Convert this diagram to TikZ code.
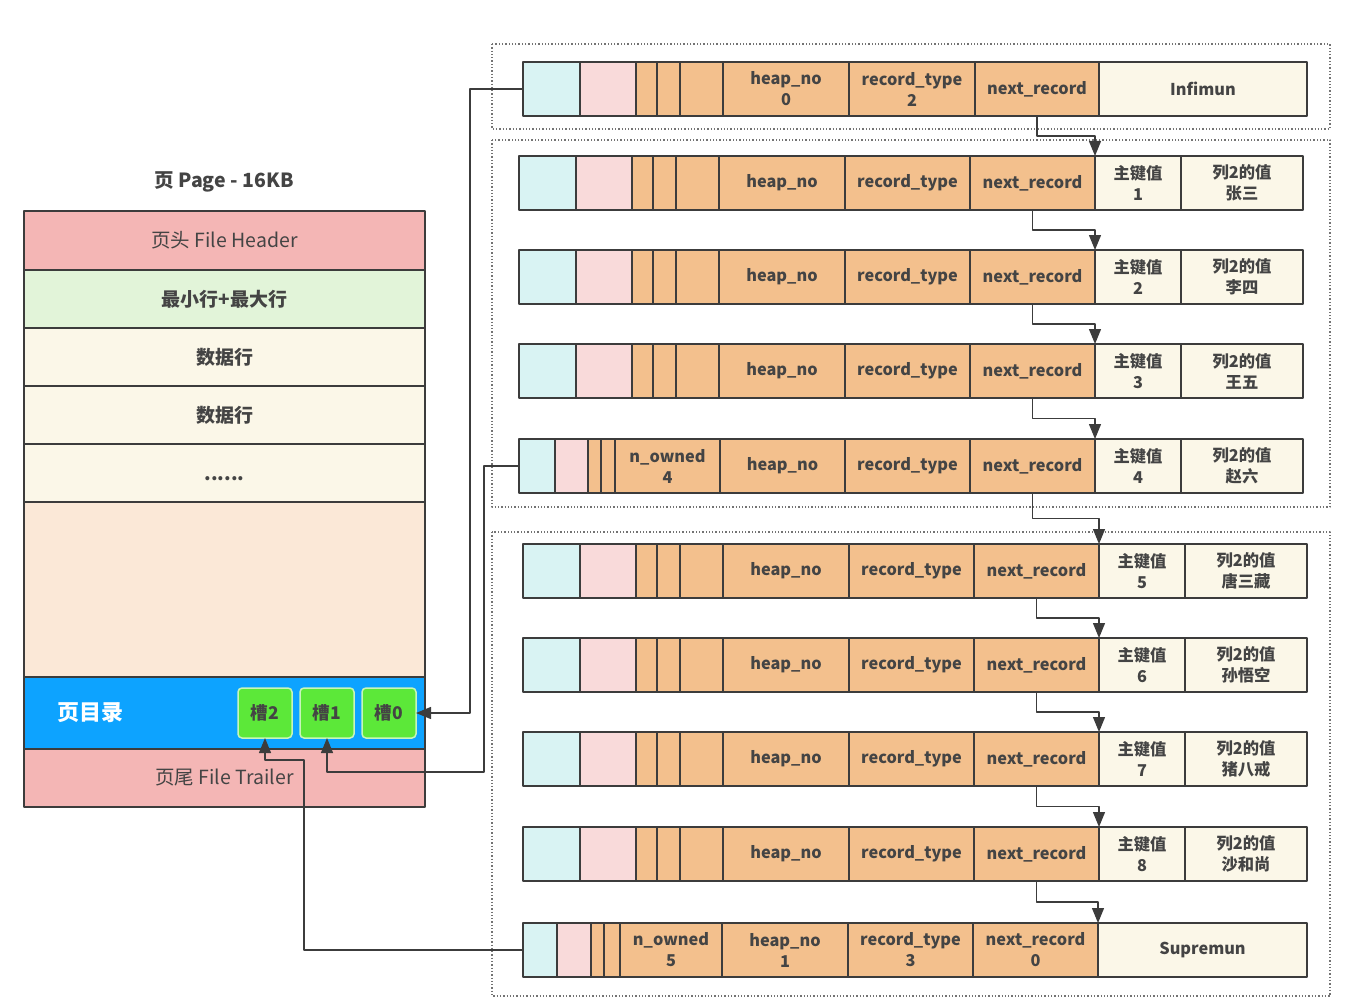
\documentclass[tikz,border=0pt]{standalone}
\usepackage{fontspec}
\setmainfont{Noto Sans CJK SC}
\usetikzlibrary{positioning,calc,arrows.meta}
\definecolor{linec}{HTML}{3C3C3C}
\definecolor{textc}{HTML}{444444}
\definecolor{headc}{HTML}{F4B6B5}
\definecolor{minc}{HTML}{E2F4D9}
\definecolor{creamc}{HTML}{FBF7E8}
\definecolor{peachc}{HTML}{FBE8D7}
\definecolor{dirc}{HTML}{0DA3FF}
\definecolor{slotc}{HTML}{5CE839}
\definecolor{slotb}{HTML}{C8F5BA}
\definecolor{cyanc}{HTML}{D9F3F3}
\definecolor{pinkc}{HTML}{F9DADA}
\definecolor{orangec}{HTML}{F3C08D}
\begin{document}
\begin{tikzpicture}[x=1pt, y=-1pt, line join=round,
	cell/.style={draw=linec, line width=1.4pt, minimum height=54, inner sep=0, outer sep=0, align=center,
		text=textc, font=\bfseries\fontsize{16.3}{21}\selectfont},
	blk/.style={draw=linec, line width=1.4pt, minimum width=401, inner sep=0, outer sep=0, text=textc},
	slot/.style={draw=slotb, fill=slotc, line width=1.5pt, rounded corners=4pt, minimum width=54, minimum height=50,
		inner sep=0, outer sep=0, text=textc, font=\bfseries\fontsize{17.5}{19}\selectfont},
	link/.style={draw=linec, line width=1.3pt, -{Triangle[length=15pt,width=12pt]}},
	grp/.style={draw=gray!90!black, line width=1.3pt, dotted}]
	\useasboundingbox (0,0) rectangle (1352,1006);
	% page
	\node[font=\bfseries\fontsize{19.5}{22}\selectfont, text=textc] (title) at (224,182) {页 Page - 16KB};
	\node[blk, fill=headc, minimum height=59, anchor=north west, font=\fontsize{19.5}{22}\selectfont] (hdr) at (24,211) {页头 File Header};
	\node[blk, fill=minc, minimum height=58, below=0pt of hdr, font=\bfseries\fontsize{19}{22}\selectfont] (mm) {最小行+最大行};
	\node[blk, fill=creamc, minimum height=58, below=0pt of mm, font=\bfseries\fontsize{19}{22}\selectfont] (d1) {数据行};
	\node[blk, fill=creamc, minimum height=58, below=0pt of d1, font=\bfseries\fontsize{19}{22}\selectfont] (d2) {数据行};
	\node[blk, fill=creamc, minimum height=58, below=0pt of d2, font=\bfseries\fontsize{19}{22}\selectfont] (dots) {\vphantom{数}......};
	\node[blk, fill=peachc, minimum height=175, below=0pt of dots] (free) {};
	\node[blk, fill=dirc, minimum height=72, below=0pt of free] (dir) {};
	\node[blk, fill=headc, minimum height=58, below=0pt of dir, font=\fontsize{19.5}{22}\selectfont] (trl) {页尾 File Trailer};
	\node[font=\bfseries\fontsize{22}{24}\selectfont, text=white, inner sep=0, anchor=west] (dirl) at ($(dir.west)+(33,0)$) {页目录};
	\node[slot, left=9pt of dir.east] (s0) {槽0};
	\node[slot, left=8pt of s0] (s1) {槽1};
	\node[slot, left=8pt of s1] (s2) {槽2};
	% groups
	\draw[grp] (492,44) rectangle (1330,129);
	\draw[grp] (492,140) rectangle (1330,507);
	\draw[grp] (492,532) rectangle (1330,996);
	% infimum
	\node[cell, fill=cyanc, minimum width=57, anchor=north west] (r0-a) at (523,62) {};
	\node[cell, fill=pinkc, minimum width=56, right=0pt of r0-a] (r0-b) {};
	\node[cell, fill=orangec, minimum width=21, right=0pt of r0-b] (r0-c) {};
	\node[cell, fill=orangec, minimum width=23, right=0pt of r0-c] (r0-d) {};
	\node[cell, fill=orangec, minimum width=43, right=0pt of r0-d] (r0-e) {};
	\node[cell, fill=orangec, minimum width=126, right=0pt of r0-e] (r0-hn) {heap\_no\\0};
	\node[cell, fill=orangec, minimum width=126, right=0pt of r0-hn] (r0-rt) {record\_type\\2};
	\node[cell, fill=orangec, minimum width=124, right=0pt of r0-rt] (r0-nr) {next\_record};
	\node[cell, fill=creamc, minimum width=208, right=0pt of r0-nr] (r0-inf) {Infimun};
	% user records
	\foreach \i/\x/\y/\v in {1/519/156/张三, 2/519/250/李四, 3/519/344/王五,
		5/523/544/唐三藏, 6/523/638/孙悟空, 7/523/732/猪八戒, 8/523/827/沙和尚}{
		\node[cell, fill=cyanc, minimum width=57, anchor=north west] (r\i-a) at (\x,\y) {};
		\node[cell, fill=pinkc, minimum width=56, right=0pt of r\i-a] (r\i-b) {};
		\node[cell, fill=orangec, minimum width=21, right=0pt of r\i-b] (r\i-c) {};
		\node[cell, fill=orangec, minimum width=23, right=0pt of r\i-c] (r\i-d) {};
		\node[cell, fill=orangec, minimum width=43, right=0pt of r\i-d] (r\i-e) {};
		\node[cell, fill=orangec, minimum width=126, right=0pt of r\i-e] (r\i-hn) {heap\_no};
		\node[cell, fill=orangec, minimum width=125, right=0pt of r\i-hn] (r\i-rt) {record\_type};
		\node[cell, fill=orangec, minimum width=125, right=0pt of r\i-rt] (r\i-nr) {next\_record};
		\node[cell, fill=creamc, minimum width=86, right=0pt of r\i-nr] (r\i-k) {主键值\\\i};
		\node[cell, fill=creamc, minimum width=122, right=0pt of r\i-k] (r\i-v) {列2的值\\\v};
	}
	% group owner 4
	\node[cell, fill=cyanc, minimum width=36, anchor=north west] (r4-a) at (519,439) {};
	\node[cell, fill=pinkc, minimum width=33, right=0pt of r4-a] (r4-b) {};
	\node[cell, fill=orangec, minimum width=13, right=0pt of r4-b] (r4-c) {};
	\node[cell, fill=orangec, minimum width=14, right=0pt of r4-c] (r4-d) {};
	\node[cell, fill=orangec, minimum width=105, right=0pt of r4-d] (r4-no) {n\_owned\\4};
	\node[cell, fill=orangec, minimum width=125, right=0pt of r4-no] (r4-hn) {heap\_no};
	\node[cell, fill=orangec, minimum width=125, right=0pt of r4-hn] (r4-rt) {record\_type};
	\node[cell, fill=orangec, minimum width=125, right=0pt of r4-rt] (r4-nr) {next\_record};
	\node[cell, fill=creamc, minimum width=86, right=0pt of r4-nr] (r4-k) {主键值\\4};
	\node[cell, fill=creamc, minimum width=122, right=0pt of r4-k] (r4-v) {列2的值\\赵六};
	% supremum
	\node[cell, fill=cyanc, minimum width=34, anchor=north west] (r9-a) at (523,923) {};
	\node[cell, fill=pinkc, minimum width=34, right=0pt of r9-a] (r9-b) {};
	\node[cell, fill=orangec, minimum width=13, right=0pt of r9-b] (r9-c) {};
	\node[cell, fill=orangec, minimum width=16, right=0pt of r9-c] (r9-d) {};
	\node[cell, fill=orangec, minimum width=102, right=0pt of r9-d] (r9-no) {n\_owned\\5};
	\node[cell, fill=orangec, minimum width=126, right=0pt of r9-no] (r9-hn) {heap\_no\\1};
	\node[cell, fill=orangec, minimum width=125, right=0pt of r9-hn] (r9-rt) {record\_type\\3};
	\node[cell, fill=orangec, minimum width=125, right=0pt of r9-rt] (r9-nr) {next\_record\\0};
	\node[cell, fill=creamc, minimum width=209, right=0pt of r9-nr] (r9-sup) {Supremun};
	% next_record links
	\foreach \i/\j in {0/1,1/2,2/3,3/4,4/5,5/6,6/7,7/8}
		\draw[link] (r\i-nr.south) |- ($(r\i-nr.south)!.5!(r\j-k.north west)$) -| (r\j-k.north west);
	\draw[link] (r8-nr.south) |- ($(r8-nr.south)!.5!(r9-sup.north west)$) -| (r9-sup.north west);
	% slots
	\draw[link] (r0-a.west) -- ++(-53,0) |- (s0.east);
	\draw[link] (r4-a.west) -| ++(-35,306) -| (s1.south);
	\draw[link] (r9-a.west) -| ++(-219,-190) -| (s2.south);
\end{tikzpicture}
\end{document}
